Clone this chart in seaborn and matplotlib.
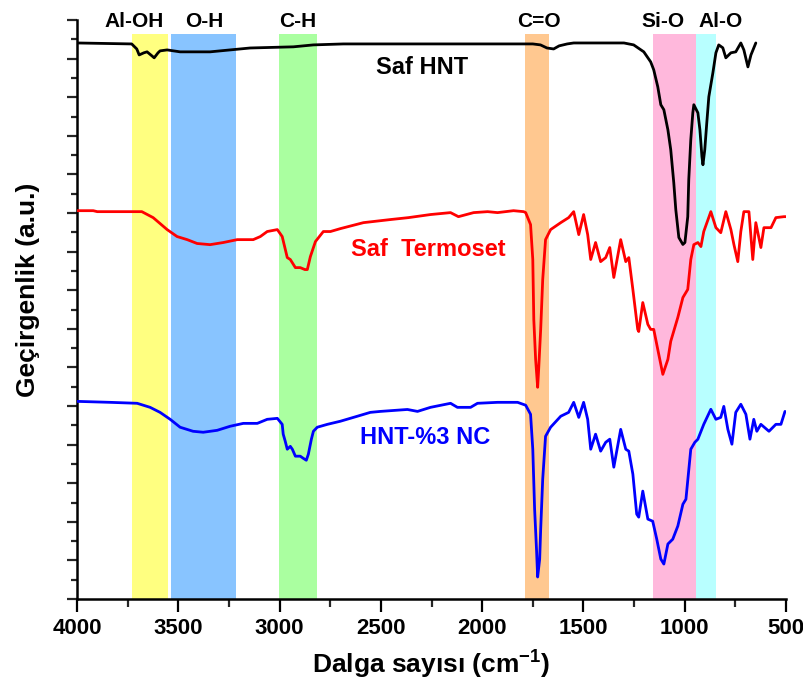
import matplotlib
matplotlib.use("Agg")
import matplotlib.pyplot as plt
import seaborn as sns
import pandas as pd
from matplotlib.ticker import MultipleLocator

# ---------------- data (wavenumber cm-1, transmittance a.u.) ----------------
hnt_w = [4000, 3730, 3705, 3693, 3670, 3654, 3630, 3619, 3600, 3590, 3555, 3491, 3343, 3244,
         3145, 2932, 2833, 2685, 2500, 2000, 1750, 1712, 1680, 1647, 1620, 1580, 1548, 1300,
         1252, 1202, 1168, 1153, 1133, 1118, 1103, 1083, 1069, 1054, 1044, 1029, 1009, 999,
         985, 980, 970, 960, 955, 935, 925, 915, 910, 901, 891, 881, 861, 846, 832, 812, 797,
         772, 748, 723, 708, 688, 673, 649]
hnt_t = [28.81, 28.76, 28.50, 28.19, 28.30, 28.35, 28.14, 28.04, 28.30, 28.40, 28.45, 28.35,
         28.35, 28.45, 28.55, 28.61, 28.71, 28.76, 28.76, 28.76, 28.76, 28.71, 28.55, 28.50,
         28.66, 28.76, 28.81, 28.81, 28.71, 28.35, 27.83, 27.42, 26.54, 25.61, 25.35, 24.31,
         23.28, 21.57, 20.17, 18.73, 18.37, 18.47, 19.81, 21.73, 23.80, 25.19, 25.61, 25.19,
         24.31, 22.92, 22.50, 23.28, 24.68, 26.02, 27.26, 28.30, 28.71, 28.56, 28.04, 28.30,
         28.35, 28.81, 28.45, 27.57, 28.19, 28.81]

ter_w = [4000, 3920, 3900, 3680, 3624, 3555, 3506, 3456, 3407, 3343, 3278, 3209, 3130, 3095,
         3061, 3011, 2987, 2962, 2947, 2922, 2898, 2875, 2863, 2848, 2823, 2784, 2749, 2700,
         2586, 2453, 2364, 2255, 2156, 2117, 2042, 1973, 1924, 1845, 1795, 1785, 1761, 1750,
         1745, 1736, 1726, 1721, 1711, 1701, 1687, 1662, 1612, 1573, 1548, 1523, 1499, 1479,
         1464, 1440, 1415, 1390, 1370, 1350, 1316, 1291, 1276, 1256, 1232, 1227, 1207, 1182,
         1168, 1153, 1133, 1108, 1083, 1069, 1034, 1009, 985, 970, 955, 935, 920, 906, 871,
         846, 822, 797, 772, 757, 738, 723, 708, 683, 664, 649, 624, 609, 574, 550, 510, 500]
ter_t = [20.12, 20.12, 20.07, 20.07, 19.76, 19.14, 18.78, 18.62, 18.42, 18.36, 18.47, 18.62,
         18.62, 18.78, 19.04, 19.14, 18.78, 17.69, 17.59, 17.17, 17.17, 17.07, 17.07, 17.74,
         18.52, 19.04, 19.04, 19.19, 19.50, 19.66, 19.76, 19.92, 20.02, 19.81, 20.02, 20.07,
         20.02, 20.12, 20.07, 20.02, 19.40, 17.59, 14.48, 12.42, 10.97, 11.90, 13.97, 16.55,
         18.62, 19.14, 19.50, 19.76, 20.07, 18.88, 19.92, 18.88, 17.59, 18.47, 17.48, 17.69,
         18.21, 16.66, 18.62, 17.48, 17.69, 16.04, 13.97, 13.86, 15.36, 14.23, 13.97, 13.97,
         12.93, 11.64, 12.42, 13.35, 14.59, 15.62, 16.04, 17.59, 18.36, 18.47, 18.26, 19.04,
         20.07, 19.24, 18.98, 20.07, 19.14, 18.36, 17.48, 19.04, 20.07, 20.07, 17.59, 19.50,
         18.21, 19.24, 19.24, 19.76, 19.81, 19.81]

nc_w = [4000, 3837, 3703, 3639, 3590, 3540, 3491, 3427, 3377, 3308, 3244, 3179, 3110, 3061,
        3011, 2987, 2982, 2972, 2962, 2947, 2937, 2922, 2898, 2883, 2868, 2858, 2843, 2833,
        2814, 2764, 2700, 2616, 2552, 2502, 2369, 2319, 2255, 2156, 2122, 2057, 2023, 1924,
        1825, 1785, 1761, 1750, 1741, 1731, 1726, 1716, 1711, 1701, 1687, 1662, 1612, 1573,
        1548, 1523, 1499, 1479, 1464, 1440, 1415, 1390, 1370, 1350, 1316, 1291, 1276, 1256,
        1237, 1227, 1207, 1182, 1158, 1138, 1118, 1103, 1083, 1059, 1034, 1009, 994, 970, 950,
        935, 906, 871, 846, 822, 807, 787, 767, 748, 723, 698, 678, 659, 644, 624, 584, 550,
        525, 505]
nc_t = [10.24, 10.19, 10.14, 9.93, 9.67, 9.31, 8.90, 8.69, 8.64, 8.74, 8.95, 9.10, 9.10, 9.31,
        9.36, 9.05, 8.54, 8.17, 7.76, 7.91, 7.76, 7.40, 7.40, 7.29, 7.19, 7.50, 8.28, 8.69,
        8.90, 9.05, 9.21, 9.47, 9.67, 9.72, 9.82, 9.72, 9.93, 10.14, 9.93, 9.93, 10.14, 10.19,
        10.19, 10.04, 9.57, 7.76, 4.66, 2.43, 1.14, 2.07, 3.62, 6.21, 8.43, 8.90, 9.47, 9.67,
        10.19, 9.41, 10.19, 9.31, 7.76, 8.54, 7.66, 8.12, 8.28, 6.83, 8.79, 7.76, 7.66, 6.47,
        4.40, 4.24, 5.59, 4.14, 4.03, 3.10, 2.07, 1.81, 2.85, 3.10, 3.78, 4.91, 5.17, 7.76,
        8.12, 8.28, 9.05, 9.83, 9.31, 9.41, 9.98, 8.79, 8.02, 9.67, 10.09, 9.57, 8.28, 9.31,
        8.69, 9.05, 8.69, 9.05, 9.05, 9.72]

series_names = ["Saf HNT", "Saf Termoset", "HNT-%3 NC"]
series_colors = ["#000000", "#ff0000", "#0000ff"]

band_labels = ["Al-OH", "O-H", "C-H", "C=O", "Si-O", "Al-O"]
band_lo = [3550, 3214, 2814, 1672, 945, 846]
band_hi = [3728, 3535, 3002, 1786, 1158, 945]
band_colors = ["#ffff80", "#88c4ff", "#aaffa0", "#ffc890", "#ffb8dc", "#b8ffff"]
band_label_x = [3718, 3372, 2912, 1721, 1108, 822]

# ---------------- plot ----------------
sns.set_theme(style="ticks")
plt.rcParams["font.family"] = ["Liberation Sans", "DejaVu Sans"]
plt.rcParams["font.weight"] = "bold"
plt.rcParams["mathtext.fontset"] = "custom"
plt.rcParams["mathtext.rm"] = "Liberation Sans:bold"
plt.rcParams["mathtext.bf"] = "Liberation Sans:bold"

fig = plt.figure(figsize=(8.04, 6.93), dpi=100)
ax = fig.add_axes([77 / 804, 1 - 599 / 693, (786 - 77) / 804, 579 / 693])

for lo, hi, c in zip(band_lo, band_hi, band_colors):
    ax.axvspan(lo, hi, ymin=0, ymax=0.975, color=c, lw=0, zorder=0)

frames = [
    pd.DataFrame({"w": hnt_w, "t": hnt_t, "s": series_names[0]}),
    pd.DataFrame({"w": ter_w, "t": ter_t, "s": series_names[1]}),
    pd.DataFrame({"w": nc_w, "t": nc_t, "s": series_names[2]}),
]
for df, col in zip(frames, series_colors):
    sns.lineplot(data=df, x="w", y="t", color=col, lw=2.0, ax=ax,
                 estimator=None, sort=False, legend=False, zorder=3)

ax.set_xlim(4000, 500)
ax.set_ylim(0, 30)

for lab, x in zip(band_labels, band_label_x):
    ax.text(x, 29.9, lab, ha="center", va="center", fontsize=15, fontweight="bold",
            color="black", clip_on=False, zorder=5)

ax.text(2295, 27.55, series_names[0], ha="center", va="center", fontsize=17,
        fontweight="bold", color=series_colors[0])
ax.text(2265, 18.1, "Saf  Termoset", ha="center", va="center", fontsize=17,
        fontweight="bold", color=series_colors[1])
ax.text(2280, 8.38, series_names[2], ha="center", va="center", fontsize=17,
        fontweight="bold", color=series_colors[2])

ax.xaxis.set_major_locator(MultipleLocator(500))
ax.xaxis.set_minor_locator(MultipleLocator(250))
ax.yaxis.set_major_locator(MultipleLocator(2))
ax.yaxis.set_minor_locator(MultipleLocator(1))
ax.set_yticklabels([])
ax.tick_params(axis="x", which="major", length=9, width=1.6, direction="out",
               labelsize=16, pad=5, colors="black")
ax.tick_params(axis="x", which="minor", length=6, width=1.6, direction="out")
ax.tick_params(axis="y", which="major", length=7, width=1.6, direction="out", labelleft=False)
ax.tick_params(axis="y", which="minor", length=4, width=1.6, direction="out")
for lbl in ax.get_xticklabels():
    lbl.set_fontweight("bold")

sns.despine(ax=ax, top=True, right=True)
for sp in ["left", "bottom"]:
    ax.spines[sp].set_linewidth(1.8)
    ax.spines[sp].set_color("black")

ax.set_xlabel("Dalga sayısı (cm$^{\\mathbf{-1}}$)", fontsize=19, fontweight="bold", color="black")
ax.set_ylabel("Geçirgenlik (a.u.)", fontsize=19, fontweight="bold", color="black")
ax.xaxis.set_label_coords(0.5, -0.083)
ax.yaxis.set_label_coords(-0.052, 0.534)
ax.grid(False)

fig.savefig("out.png", dpi=100, facecolor="white")
